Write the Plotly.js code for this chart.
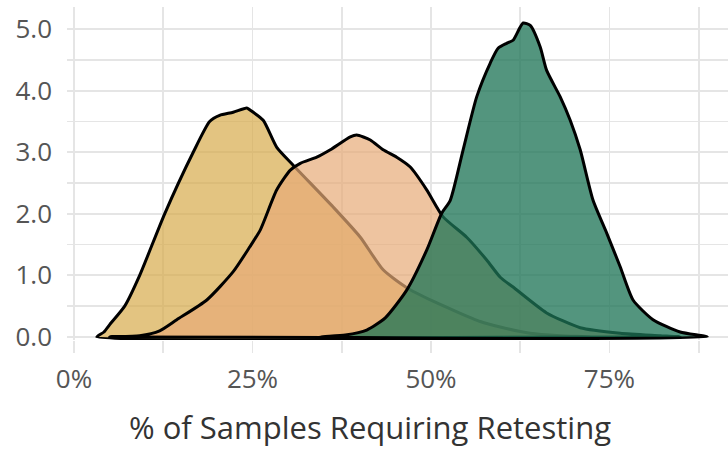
<!DOCTYPE html>
<html>
<head>
<meta charset="utf-8">
<script src="https://cdn.plot.ly/plotly-3.0.1.min.js"></script>
<style>html,body{margin:0;padding:0;background:#fff;}#chart{width:728px;height:451px;}</style>
</head>
<body>
<div id="chart"></div>
<script>
// Density curves: x in % of samples requiring retesting, y density
const yellowX = [3.2, 4.2, 5.0, 7.1, 9.2, 12.7, 16.7, 19.0, 20.4, 22.3, 24.2, 24.6, 26.5, 28.4, 30.7, 36.3, 40.1, 43.3, 46.6, 50.3, 53.4, 56.9, 59.7, 63.9, 68.1, 72.3];
const yellowY = [0.0, 0.08, 0.2, 0.5, 1.0, 2.0, 3.0, 3.5, 3.6, 3.65, 3.72, 3.69, 3.52, 3.08, 2.79, 2.11, 1.62, 1.09, 0.8, 0.58, 0.42, 0.25, 0.16, 0.06, 0.02, 0.0];

const peachX = [5.0, 9.2, 12.0, 14.4, 18.6, 22.3, 24.6, 26.1, 28.4, 30.3, 31.7, 34.0, 35.9, 38.7, 39.6, 41.5, 43.3, 45.2, 47.1, 49.4, 51.7, 55.0, 57.8, 59.7, 61.5, 66.2, 70.9, 76.5, 82.1, 84.9];
const peachY = [0.0, 0.02, 0.1, 0.28, 0.6, 1.06, 1.46, 1.74, 2.39, 2.71, 2.82, 2.92, 3.04, 3.25, 3.28, 3.2, 3.04, 2.92, 2.76, 2.39, 1.95, 1.62, 1.25, 0.97, 0.81, 0.39, 0.15, 0.06, 0.02, 0.0];

const greenX = [34.5, 38.0, 41.0, 43.6, 46.6, 49.4, 51.5, 52.7, 54.5, 56.4, 58.3, 59.4, 60.6, 61.5, 62.9, 63.9, 65.3, 66.2, 68.1, 69.5, 70.9, 72.7, 74.6, 76.5, 78.3, 81.1, 84.9, 88.7];
const greenY = [0.0, 0.03, 0.11, 0.31, 0.76, 1.41, 2.01, 2.22, 3.04, 3.9, 4.45, 4.69, 4.77, 4.82, 5.1, 5.06, 4.71, 4.33, 3.9, 3.52, 3.04, 2.22, 1.69, 1.14, 0.6, 0.28, 0.08, 0.0];

const xTickVals = [0, 0.25, 0.5, 0.75];
const xTickText = ['0%', '25%', '50%', '75%'];
const yTickVals = [0, 1, 2, 3, 4, 5];
const yTickText = ['0.0', '1.0', '2.0', '3.0', '4.0', '5.0'];
const xTitle = '% of Samples Requiring Retesting';

function closed(xs, ys) {
  const x = xs.map(v => v / 100);
  const y = ys.slice();
  x.push(x[0]); y.push(y[0]);
  return {x, y};
}

const series = [
  {d: closed(yellowX, yellowY), fill: 'rgba(215,171,76,0.7)'},
  {d: closed(peachX, peachY), fill: 'rgba(231,171,119,0.7)'},
  {d: closed(greenX, greenY), fill: 'rgba(29,116,86,0.76)'}
];

const traces = series.map(s => ({
  type: 'scatter', mode: 'lines',
  x: s.d.x, y: s.d.y,
  fill: 'toself', fillcolor: s.fill,
  line: {color: '#000', width: 3, shape: 'spline', smoothing: 0.6},
  hoverinfo: 'skip', showlegend: false
}));

const gridC = '#e5e5e5';
const layout = {
  width: 728, height: 451,
  margin: {l: 67, r: 0, t: 7, b: 111},
  paper_bgcolor: '#fff', plot_bgcolor: '#fff',
  font: {family: 'Open Sans, sans-serif', color: '#555'},
  xaxis: {
    range: [-0.0098, 0.916],
    tickvals: xTickVals, ticktext: xTickText,
    showgrid: true, gridcolor: gridC, gridwidth: 1.8,
    ticks: 'outside', ticklen: 12, tickcolor: gridC, tickwidth: 1.8,
    minor: {tickvals: [0.125, 0.375, 0.625, 0.875], showgrid: true, gridcolor: gridC, gridwidth: 1.8, ticks: 'outside', ticklen: 12, tickcolor: gridC, tickwidth: 1.8},
    zeroline: false, showline: false,
    tickfont: {size: 26, color: '#555'},
    ticklabelstandoff: 4
  },
  yaxis: {
    range: [-0.05, 5.36],
    tickvals: yTickVals, ticktext: yTickText,
    showgrid: true, gridcolor: gridC, gridwidth: 1.8,
    minor: {tickvals: [0.5, 1.5, 2.5, 3.5, 4.5], showgrid: true, gridcolor: gridC, gridwidth: 1.8},
    ticks: '', zeroline: false, showline: false,
    tickfont: {size: 26, color: '#555'},
    ticklabelstandoff: 14
  },
  annotations: [{
    text: xTitle, xref: 'paper', yref: 'paper',
    x: 0.458, y: -0.262, xanchor: 'center', yanchor: 'middle',
    showarrow: false, font: {size: 31, color: '#333'}
  }]
};

Plotly.newPlot('chart', traces, layout, {staticPlot: true, displayModeBar: false});
</script>
</body>
</html>
